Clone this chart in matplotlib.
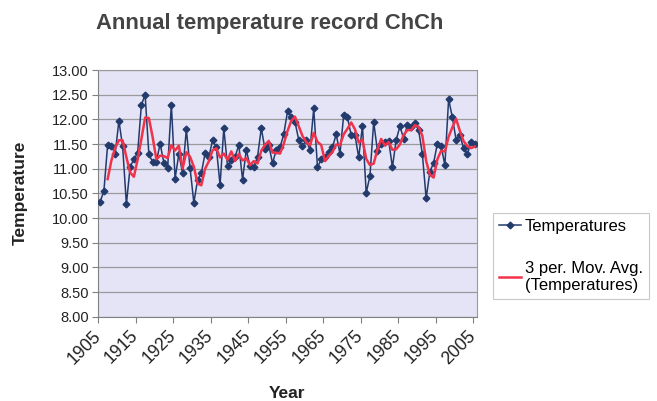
import pandas as pd
import matplotlib.pyplot as plt

# annual mean temperatures, 1905-2005
years = list(range(1905, 2006))
temps = [
    10.33, 10.55, 11.49, 11.46, 11.30, 11.97, 11.45, 10.28, 11.04, 11.19,  # 1905-1914
    11.32, 12.29, 12.50, 11.29, 11.14, 11.14, 11.51, 11.12, 11.01, 12.30,  # 1915-1924
    10.80, 11.30, 10.91, 11.80, 11.01, 10.31, 10.77, 10.91, 11.31, 11.23,  # 1925-1934
    11.58, 11.43, 10.67, 11.82, 11.05, 11.18, 11.24, 11.48, 10.78, 11.38,  # 1935-1944
    11.05, 11.03, 11.24, 11.82, 11.39, 11.48, 11.11, 11.38, 11.43, 11.70,  # 1945-1954
    12.16, 12.05, 11.95, 11.58, 11.46, 11.58, 11.38, 12.22, 11.03, 11.19,  # 1955-1964
    11.24, 11.34, 11.43, 11.70, 11.30, 12.09, 12.04, 11.68, 11.68, 11.23,  # 1965-1974
    11.86, 10.51, 10.85, 11.95, 11.36, 11.50, 11.55, 11.57, 11.03, 11.58,  # 1975-1984
    11.86, 11.61, 11.88, 11.85, 11.92, 11.78, 11.29, 10.40, 10.94, 11.12,  # 1985-1994
    11.51, 11.46, 11.07, 12.41, 12.04, 11.58, 11.68, 11.41, 11.29, 11.55,  # 1995-2004
    11.51,                                                                 # 2005
]
tick_years = list(range(1905, 2006, 10))
y_ticks = [8.0 + 0.5 * i for i in range(11)]

df = pd.DataFrame({'Temperatures': temps}, index=years)
df['MA'] = df['Temperatures'].rolling(3).mean()  # Excel style 3 period trailing average

plt.rcParams['font.family'] = ['Liberation Sans', 'DejaVu Sans']

fig = plt.figure(figsize=(6.57, 4.01), dpi=100)
ax = fig.add_axes([0.1496, 0.2102, 0.5760, 0.6152])
ax.set_facecolor('#e4e4f6')

ax.plot(df.index, df['Temperatures'], color='#223a6c', lw=1.1,
        marker='D', ms=3.4, label='Temperatures', zorder=3)
ax.plot(df.index, df['MA'], color='#f0334a', lw=1.8,
        label='3 per. Mov. Avg.\n(Temperatures)', zorder=4)

ax.set_xlim(1904.5, 2005.5)
ax.set_ylim(8.0, 13.0)
ax.set_yticks(y_ticks)
ax.set_yticklabels([f'{v:.2f}' for v in y_ticks], fontsize=10.5, color='#222222')
ax.set_xticks([y - 0.5 for y in tick_years])
ax.set_xticklabels([str(y) for y in tick_years], rotation=45, ha='right', va='center',
                   rotation_mode='anchor', fontsize=12.8, color='#222222')
ax.tick_params(axis='y', length=4, color='#808080', pad=3)
ax.tick_params(axis='x', length=4, color='#808080', pad=8)
ax.grid(axis='y', color='#9a9a9a', lw=0.9)
ax.set_axisbelow(True)
for s in ax.spines.values():
    s.set_color('#9a9a9a')
ax.spines['left'].set_color('#808080')
ax.spines['bottom'].set_color('#808080')

fig.text(20 / 657, 1 - 193 / 401, 'Temperature', fontsize=12.5, fontweight='bold',
         color='#222222', rotation=90, ha='center', va='center')
fig.text(287 / 657, 1 - 393 / 401, 'Year', fontsize=12.5, fontweight='bold',
         color='#222222', ha='center', va='center')
fig.text(270 / 657, 1 - 24 / 401, 'Annual temperature record ChCh', fontsize=15.8,
         fontweight='bold', color='#444444', ha='center', va='center')

leg = fig.legend(loc='upper left', bbox_to_anchor=(493 / 657, 1 - 213 / 401), fontsize=12,
                 frameon=True, fancybox=False, edgecolor='#bbbbbb',
                 handlelength=1.3, handletextpad=0.25, borderpad=0.35,
                 labelspacing=1.6, borderaxespad=0)
leg.get_frame().set_linewidth(0.8)

plt.savefig('out.png', dpi=100)
plt.close()
